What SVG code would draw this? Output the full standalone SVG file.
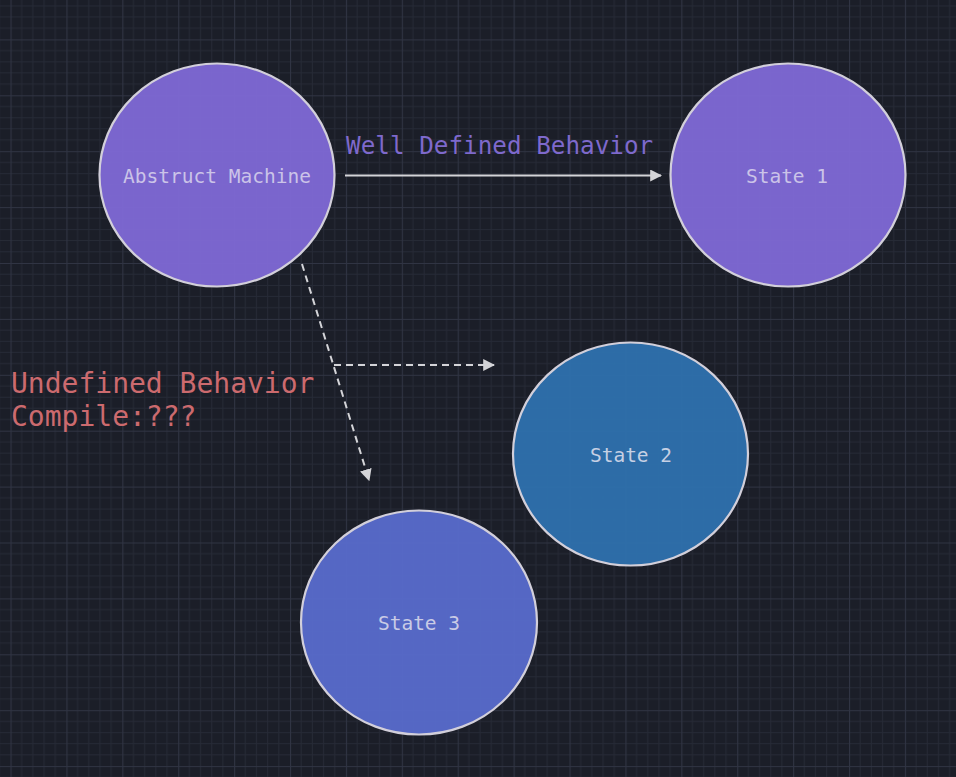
<svg xmlns="http://www.w3.org/2000/svg" width="956" height="777" viewBox="0 0 956 777">
  <defs>
    <pattern id="grid" patternUnits="userSpaceOnUse" x="10.5" y="-16.5" width="55.9" height="55.9">
      <path d="M11.18 0V55.9M22.36 0V55.9M33.54 0V55.9M44.72 0V55.9M0 11.18H55.9M0 22.36H55.9M0 33.54H55.9M0 44.72H55.9" stroke="#262a36" stroke-width="1" fill="none"/>
      <path d="M0.5 0V55.9M0 0.5H55.9" stroke="#303443" stroke-width="1.2" fill="none"/>
    </pattern>
    <marker id="head" viewBox="0 0 10 10" refX="9" refY="5" markerWidth="6" markerHeight="6" orient="auto" markerUnits="strokeWidth">
      <path d="M0 0L10 5L0 10Z" fill="#d4d4d8"/>
    </marker>
    <style>
      .node { stroke: #d2cfda; stroke-width: 2.2; fill-opacity: 0.95; }
      .lbl { font-family: "DejaVu Sans Mono", "Liberation Mono", monospace; font-size: 19.5px; text-anchor: middle; }
      .conn { stroke: #d4d4d8; stroke-width: 2; fill: none; }
      .dash { stroke-dasharray: 7 5; }
      .note { font-family: "DejaVu Sans Mono", "Liberation Mono", monospace; }
    </style>
  </defs>
  <rect width="956" height="777" fill="#1b1e28"/>
  <rect width="956" height="777" fill="url(#grid)"/>

  <g id="abstract-machine">
    <ellipse class="node" cx="217" cy="175" rx="117.5" ry="111.5" fill="#8069d6"/>
    <text class="lbl" x="217" y="183" fill="#cbc3e8">Abstruct Machine</text>
  </g>
  <g id="state-1">
    <ellipse class="node" cx="788" cy="175" rx="117.5" ry="111.5" fill="#8069d6"/>
    <text class="lbl" x="787" y="183" fill="#cbc3e8">State 1</text>
  </g>
  <g id="state-2">
    <ellipse class="node" cx="630.5" cy="454" rx="117.5" ry="111.5" fill="#2e71ae"/>
    <text class="lbl" x="631" y="462" fill="#c6d0e4">State 2</text>
  </g>
  <g id="state-3">
    <ellipse class="node" cx="419" cy="622.5" rx="118" ry="112" fill="#586bcc"/>
    <text class="lbl" x="419" y="630" fill="#c9cbe6">State 3</text>
  </g>

  <g id="connectors">
    <line class="conn" x1="345" y1="175.5" x2="661" y2="175.5" marker-end="url(#head)"/>
    <line class="conn dash" x1="302" y1="264" x2="369" y2="480" marker-end="url(#head)"/>
    <line class="conn dash" x1="334" y1="365" x2="494" y2="365" marker-end="url(#head)"/>
  </g>

  <g id="labels">
    <text class="note" x="346" y="154" font-size="24.3" fill="#7e69cc">Well Defined Behavior</text>
    <text class="note" x="11" y="393" font-size="28" fill="#cc6a6e">Undefined Behavior</text>
    <text class="note" x="11" y="426" font-size="28" fill="#cc6a6e">Compile:???</text>
  </g>
</svg>
